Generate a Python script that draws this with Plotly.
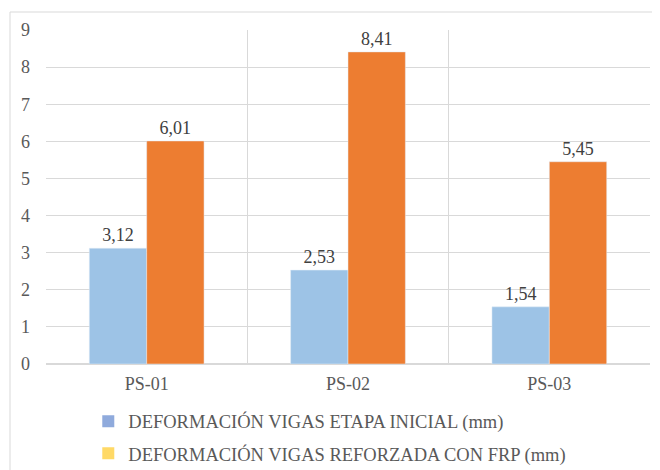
import plotly.graph_objects as go

categories = ["PS-01", "PS-02", "PS-03"]
inicial = [3.12, 2.53, 1.54]
reforzada = [6.01, 8.41, 5.45]
series_names = ["DEFORMACIÓN VIGAS ETAPA INICIAL (mm)", "DEFORMACIÓN VIGAS REFORZADA CON FRP (mm)"]
y_ticks = [0, 1, 2, 3, 4, 5, 6, 7, 8, 9]

FONT = "Liberation Serif"

fig = go.Figure()
fig.add_trace(go.Bar(x=categories, y=inicial, marker_color="#9DC3E6", showlegend=False,
                     texttemplate="%{y:.2f}", textposition="outside",
                     textfont=dict(size=18, color="#404040", family=FONT), cliponaxis=False))
fig.add_trace(go.Bar(x=categories, y=reforzada, marker_color="#ED7D31", showlegend=False,
                     texttemplate="%{y:.2f}", textposition="outside",
                     textfont=dict(size=18, color="#404040", family=FONT), cliponaxis=False))
# legend entries (reference legend uses different swatch colours)
for i, (name, col) in enumerate(zip(series_names, ["#8FAADC", "#FFD966"])):
    fig.add_trace(go.Scatter(x=[None], y=[None], mode="markers", name=name, legendgroup=f"g{i}",
                             marker=dict(symbol="square", size=9, color=col)))

fig.update_layout(
    width=660, height=470,
    margin=dict(l=38, r=18, t=22, b=114, autoexpand=False),
    paper_bgcolor="white", plot_bgcolor="white",
    separators=",.",
    barmode="group", bargap=0.43, bargroupgap=0,
    font=dict(family=FONT, size=18, color="#595959"),
    legend=dict(orientation="v", x=0.07, xanchor="left", y=-0.116, yanchor="top",
                font=dict(size=18.5, color="#595959", family=FONT), itemsizing="constant",
                tracegroupgap=5, bgcolor="rgba(0,0,0,0)"),
    xaxis=dict(type="category", tickson="boundaries", showgrid=True, gridcolor="#D9D9D9",
               gridwidth=1, ticks="", showline=False, zeroline=False, automargin=False,
               ticklabelstandoff=7,
               tickfont=dict(size=18, color="#595959", family=FONT)),
    yaxis=dict(range=[0, 9], tickvals=y_ticks, showgrid=True, gridcolor="#D9D9D9",
               zeroline=True, zerolinecolor="#D9D9D9", showline=False, ticks="",
               automargin=False, ticklabelstandoff=15,
               tickfont=dict(size=18, color="#595959", family=FONT)),
    shapes=[dict(type="rect", xref="paper", yref="paper",
                 x0=(2 - 38) / 604, x1=1.05, y0=-0.4, y1=1 + 18 / 334,
                 line=dict(color="#D9D9D9", width=1), fillcolor="rgba(0,0,0,0)", layer="below")],
)

fig.write_html("out.html")
